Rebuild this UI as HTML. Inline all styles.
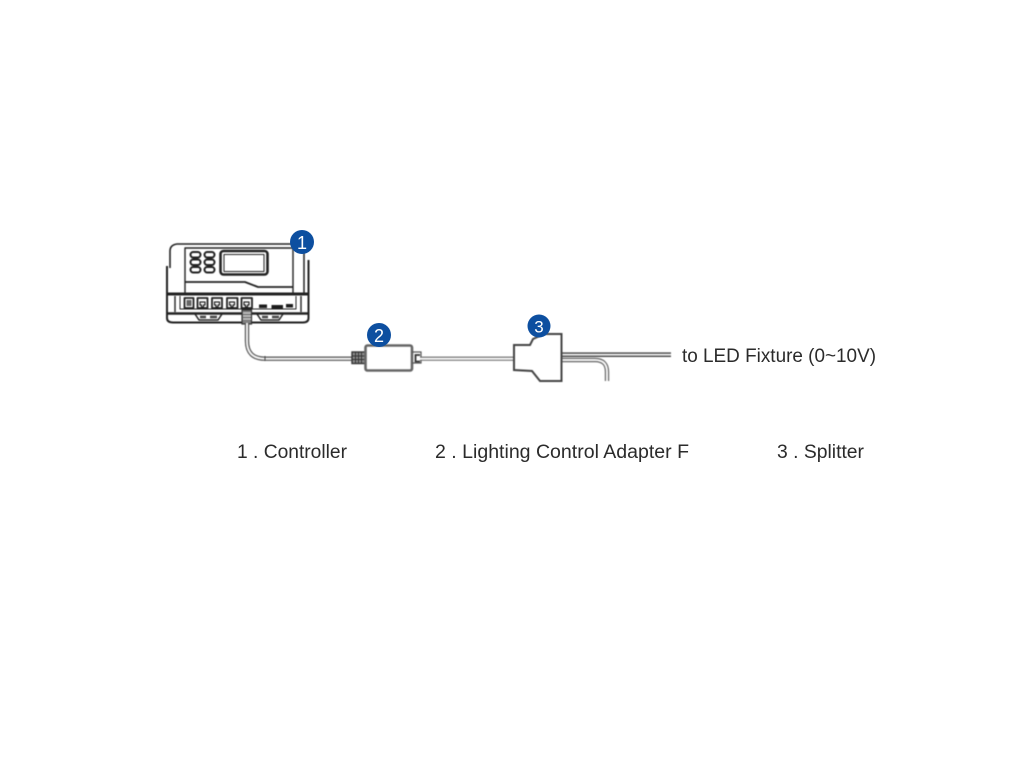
<!DOCTYPE html>
<html lang="en">
<head>
<meta charset="utf-8">
<title>Controller wiring diagram</title>
<style>
html,body{margin:0;padding:0;background:#fff;width:1024px;height:768px;overflow:hidden}
svg{display:block}
.art{filter:blur(.5px)}
text{font-family:"Liberation Sans",sans-serif;fill:#2b2b2b}
</style>
</head>
<body>
<svg width="1024" height="768" viewBox="0 0 1024 768" xmlns="http://www.w3.org/2000/svg">
<rect width="1024" height="768" fill="#fff"/>

<g class="art">
<!-- Controller -->
<g fill="none" stroke="#222" stroke-linejoin="round">
  <path d="M170 268 V251 Q170 245 177 244 H296" stroke-width="1.600"/>
  <path d="M167 266 V318 Q167 322.500 173 322.500 H303 Q308.500 322.500 308.500 318 V260" stroke-width="2"/>
  <path d="M304 252 V293" stroke-width="1.500"/>
  <path d="M185 293 V248 H293 V293" stroke-width="1.400"/>
  <path d="M185 282 H245 L258 287 H293" stroke-width="1.800"/>
  <path d="M168 294 H308" stroke-width="3"/>
  <path d="M168 313.500 H308" stroke-width="2.600"/>
  <path d="M175 296 V312 M301 296 V312" stroke-width="1.400"/>
  <path d="M180 296 V309 H296 V296" stroke-width="1"/>
  <!-- Screen -->
  <rect x="220.500" y="251" width="47" height="23.500" rx="3" stroke-width="2.600"/>
  <rect x="224" y="254.500" width="40" height="17" stroke-width="1"/>
  <!-- Buttons -->
  <g stroke-width="2">
    <rect x="190.500" y="252" width="10" height="5.500" rx="2.700"/><rect x="204.500" y="252" width="10" height="5.500" rx="2.700"/>
    <rect x="190.500" y="259.500" width="10" height="5.500" rx="2.700"/><rect x="204.500" y="259.500" width="10" height="5.500" rx="2.700"/>
    <rect x="190.500" y="267" width="10" height="5.500" rx="2.700"/><rect x="204.500" y="267" width="10" height="5.500" rx="2.700"/>
  </g>
  <!-- Ports -->
  <g stroke-width="1.800">
    <rect x="184.500" y="298" width="9" height="10"/>
    <rect x="197.500" y="298" width="10" height="10"/><rect x="212" y="298" width="10" height="10"/>
    <rect x="227" y="298" width="10.500" height="10"/><rect x="241.500" y="298" width="10.500" height="10"/>
  </g>
  <path d="M200 302 h5 v3 h-1.500 v2 h-2 v-2 h-1.500 z M214.500 302 h5 v3 h-1.500 v2 h-2 v-2 h-1.500 z M229.500 302 h5 v3 h-1.500 v2 h-2 v-2 h-1.500 z M244 302 h5 v3 h-1.500 v2 h-2 v-2 h-1.500 z" stroke-width="1.200"/>
  <!-- Feet -->
  <path d="M195 314 L199 320 H218 L222 314 M257 314 L261 320 H279 L283 314" stroke-width="1.500"/>
  <path d="M200 317 h6 M210 317 h7 M262 317 h6 M272 317 h7" stroke-width="2.500" stroke="#444"/>
</g>
<g fill="#1c1c1c">
  <rect x="259" y="304.500" width="8" height="3.500"/>
  <rect x="271.500" y="305" width="11.500" height="3.500"/>
  <rect x="286" y="304" width="7" height="3.500"/>
  <rect x="186.500" y="300" width="5" height="6" fill="#666"/>
</g>
<!-- RJ plug -->
<rect x="242" y="310" width="9.500" height="14" fill="#808080" stroke="#333" stroke-width="1.200"/>
<path d="M243 313 H251 M243 316 H251 M243 319 H251" stroke="#ddd" stroke-width="1"/>

<!-- Cable: controller to adapter -->
<path d="M247 323 V341 Q247 358.700 265 358.700 H352" fill="none" stroke="#555" stroke-width="4.400"/>
<path d="M247 323 V341 Q247 358.700 265 358.700 H352" fill="none" stroke="#f4f4f4" stroke-width="2"/>
<path d="M265 356 V361" stroke="#444" stroke-width="1"/>

<!-- Adapter -->
<rect x="352" y="352" width="13.500" height="11.500" fill="#8c8c8c" stroke="#333" stroke-width="1.400"/>
<path d="M355.500 352 V363 M358.500 352 V363 M361.500 352 V363 M352 356 H365 M352 359.500 H365" stroke="#333" stroke-width="1"/>
<rect x="365.500" y="345.500" width="46.500" height="25" rx="2" fill="#fff" stroke="#666" stroke-width="2.600"/>
<path d="M412 352 H421 V363 H412" fill="none" stroke="#555" stroke-width="1.200"/>
<path d="M420 355 H415.500 V361.500 H420" fill="none" stroke="#333" stroke-width="1.800"/>

<!-- Cable: adapter to splitter -->
<path d="M420 358.700 H514" fill="none" stroke="#666" stroke-width="4.200"/>
<path d="M420 358.700 H514" fill="none" stroke="#fafafa" stroke-width="2"/>

<!-- Outgoing cables -->
<path d="M561 354.700 H671" stroke="#444" stroke-width="4.600" fill="none"/>
<path d="M561 354.700 H671" stroke="#eee" stroke-width="1.800" fill="none"/>
<path d="M561 360 H595 Q607 360 607 372 V381" stroke="#666" stroke-width="4.400" fill="none"/>
<path d="M561 360 H595 Q607 360 607 372 V381" stroke="#f6f6f6" stroke-width="2" fill="none"/>

<!-- Splitter -->
<path d="M514 345 H530 L533 339 L544 334 H561.500 V381 H540 L532 371 L514 370 Z" fill="#fff" stroke="#444" stroke-width="2"/>
</g>

<!-- Badges -->
<circle cx="302" cy="242" r="12" fill="#0d4fa0"/>
<circle cx="379" cy="335" r="12" fill="#0d4fa0"/>
<circle cx="539" cy="326" r="11.500" fill="#0d4fa0"/>
<text x="302" y="249" text-anchor="middle" font-size="18" style="fill:#fff">1</text>
<text x="379" y="342" text-anchor="middle" font-size="18" style="fill:#fff">2</text>
<text x="539" y="332.500" text-anchor="middle" font-size="17" style="fill:#fff">3</text>

<!-- Labels -->
<g font-size="19">
  <text x="682" y="362" textLength="194" lengthAdjust="spacingAndGlyphs">to LED Fixture (0~10V)</text>
  <text x="237" y="458" textLength="110" lengthAdjust="spacingAndGlyphs">1 . Controller</text>
  <text x="435" y="458" textLength="254" lengthAdjust="spacingAndGlyphs">2 . Lighting Control Adapter F</text>
  <text x="777" y="458" textLength="87" lengthAdjust="spacingAndGlyphs">3 . Splitter</text>
</g>
</svg>
</body>
</html>
